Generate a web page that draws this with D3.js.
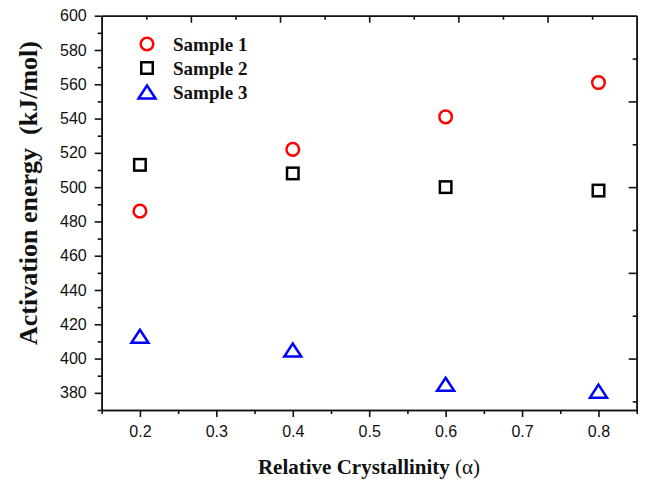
<!DOCTYPE html>
<html>
<head>
<meta charset="utf-8">
<script src="https://cdn.jsdelivr.net/npm/d3@7"></script>
<style>
  body { margin: 0; background: #fff; }
  svg { display: block; }
  .tick text { font-family: "Liberation Sans", Arial, sans-serif; font-size: 16px; fill: #111; }
</style>
</head>
<body>
<svg id="chart" width="647" height="483"></svg>
<script>
// values
var crystallinity = [0.2, 0.4, 0.6, 0.8];
var sample1 = [486, 522, 541, 561];
var sample2 = [513, 508, 500, 498];
var sample3 = [413, 405, 385, 381];
var seriesNames = ["Sample 1", "Sample 2", "Sample 3"];

var xMajor = [0.2, 0.3, 0.4, 0.5, 0.6, 0.7, 0.8];
var xMinor = [0.15, 0.25, 0.35, 0.45, 0.55, 0.65, 0.75, 0.85];
var yMajor = [380, 400, 420, 440, 460, 480, 500, 520, 540, 560, 580, 600];
var yMinor = [370, 390, 410, 430, 450, 470, 490, 510, 530, 550, 570, 590];
// mirror axes (top / right) have their own tick spacing
var topMajor = [2, 4, 6, 8, 10];
var topMinor = [1, 3, 5, 7, 9, 11];
var rightMajor = [400, 450, 500, 550];
var rightMinor = [375, 425, 475, 525, 575];

var svg = d3.select("#chart"),
    plotLeft = 101.7, plotRight = 636.7, plotTop = 15.7, plotBottom = 410;

var x = d3.scaleLinear().domain([0.15, 0.85]).range([plotLeft, plotRight]);
var y = d3.scaleLinear().domain([370, 600]).range([plotBottom, plotTop]);
var xTop = d3.scaleLinear().domain([0, 12]).range([plotLeft, plotRight]);

function styleAxis(g) {
    g.selectAll("path, line").attr("stroke", "#111").attr("stroke-width", 1.6);
}

// bottom
svg.append("g").attr("transform", "translate(0," + plotBottom + ")")
    .call(d3.axisBottom(x).tickValues(xMajor).tickSize(7).tickSizeOuter(0).tickPadding(9)
        .tickFormat(d3.format(".1f")))
    .call(styleAxis);
svg.append("g").attr("transform", "translate(0," + plotBottom + ")")
    .call(d3.axisBottom(x).tickValues(xMinor).tickSize(4).tickSizeOuter(0).tickFormat(""))
    .call(styleAxis);

// left
svg.append("g").attr("transform", "translate(" + plotLeft + ",0)")
    .call(d3.axisLeft(y).tickValues(yMajor).tickSize(7).tickSizeOuter(0).tickPadding(8))
    .call(styleAxis);
svg.append("g").attr("transform", "translate(" + plotLeft + ",0)")
    .call(d3.axisLeft(y).tickValues(yMinor).tickSize(4).tickSizeOuter(0).tickFormat(""))
    .call(styleAxis);

// top (ticks pointing in)
svg.append("g").attr("transform", "translate(0," + plotTop + ")")
    .call(d3.axisBottom(xTop).tickValues(topMajor).tickSize(7).tickSizeOuter(0).tickFormat(""))
    .call(styleAxis);
svg.append("g").attr("transform", "translate(0," + plotTop + ")")
    .call(d3.axisBottom(xTop).tickValues(topMinor).tickSize(4).tickSizeOuter(0).tickFormat(""))
    .call(styleAxis);

// right (ticks pointing in)
svg.append("g").attr("transform", "translate(" + plotRight + ",0)")
    .call(d3.axisLeft(y).tickValues(rightMajor).tickSize(8).tickSizeOuter(0).tickFormat(""))
    .call(styleAxis);
svg.append("g").attr("transform", "translate(" + plotRight + ",0)")
    .call(d3.axisLeft(y).tickValues(rightMinor).tickSize(4).tickSizeOuter(0).tickFormat(""))
    .call(styleAxis);

// markers
var triPath = "M0,-6.5L8.5,6.5L-8.5,6.5Z";

function drawCircle(sel, cx, cy) {
    sel.append("circle").attr("cx", cx).attr("cy", cy).attr("r", 6.3)
        .attr("fill", "none").attr("stroke", "#ff0000").attr("stroke-width", 2.5);
}
function drawSquare(sel, cx, cy) {
    sel.append("rect").attr("x", cx - 5.75).attr("y", cy - 5.75)
        .attr("width", 11.5).attr("height", 11.5)
        .attr("fill", "none").attr("stroke", "#000").attr("stroke-width", 2.5);
}
function drawTriangle(sel, cx, cy) {
    sel.append("path").attr("d", triPath)
        .attr("transform", "translate(" + cx + "," + cy + ")")
        .attr("fill", "none").attr("stroke", "#0000ff").attr("stroke-width", 2.5)
        .attr("stroke-linejoin", "miter");
}

var drawers = [drawCircle, drawSquare, drawTriangle];
var series = [sample1, sample2, sample3];
var pts = svg.append("g");

series.forEach(function (vals, s) {
    vals.forEach(function (v, i) {
        drawers[s](pts, x(crystallinity[i]), y(v));
    });
});

// legend
var legend = svg.append("g");
seriesNames.forEach(function (name, i) {
    var ly = 44 + i * 24;
    drawers[i](legend, 147, ly);
    legend.append("text")
        .attr("x", 173).attr("y", ly + 7)
        .attr("font-family", "'Liberation Serif', 'Times New Roman', serif")
        .attr("font-weight", "bold")
        .attr("font-size", "19px")
        .attr("fill", "#111")
        .text(name);
});

// axis titles
svg.append("text")
    .attr("x", 369).attr("y", 474)
    .attr("text-anchor", "middle")
    .attr("font-family", "'Liberation Serif', 'Times New Roman', serif")
    .attr("font-size", "21px")
    .attr("fill", "#111")
    .html("<tspan font-weight='bold'>Relative Crystallinity </tspan><tspan>(α)</tspan>");

svg.append("text")
    .attr("transform", "translate(37,193) rotate(-90)")
    .attr("text-anchor", "middle")
    .attr("font-family", "'Liberation Serif', 'Times New Roman', serif")
    .attr("font-weight", "bold")
    .attr("font-size", "26px")
    .attr("fill", "#111")
    .attr("xml:space", "preserve")
    .text("Activation energy  (kJ/mol)");
</script>
</body>
</html>
